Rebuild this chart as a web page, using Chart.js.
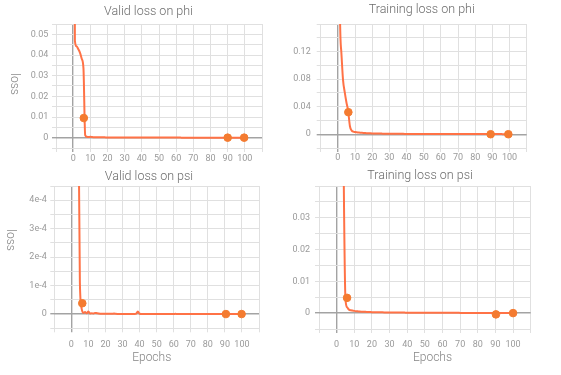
<!DOCTYPE html>
<html>
<head>
<meta charset="utf-8">
<script src="https://cdn.jsdelivr.net/npm/chart.js@4.4.1/dist/chart.umd.min.js"></script>
<style>
  html, body { margin: 0; padding: 0; background: #ffffff; }
  body { width: 561px; height: 375px; position: relative; overflow: hidden; }
  canvas { position: absolute; }
</style>
</head>
<body>
<canvas id="validPhi" width="300" height="168" style="left:0px;top:0px;width:300px;height:168px"></canvas>
<canvas id="trainPhi" width="290" height="168" style="left:280px;top:0px;width:290px;height:168px"></canvas>
<canvas id="validPsi" width="300" height="211" style="left:0px;top:164px;width:300px;height:211px"></canvas>
<canvas id="trainPsi" width="281" height="211" style="left:280px;top:164px;width:281px;height:211px"></canvas>
<script>
// ---- data -------------------------------------------------------------
const epochs = [
  0, 1, 2, 3, 4, 5, 6, 7, 8, 9,
  10, 11, 12, 13, 14, 15, 16, 17, 18, 19,
  20, 21, 22, 23, 24, 25, 26, 27, 28, 29,
  30, 31, 32, 33, 34, 35, 36, 37, 38, 39,
  40, 41, 42, 43, 44, 45, 46, 47, 48, 49,
  50, 51, 52, 53, 54, 55, 56, 57, 58, 59,
  60, 61, 62, 63, 64, 65, 66, 67, 68, 69,
  70, 71, 72, 73, 74, 75, 76, 77, 78, 79,
  80, 81, 82, 83, 84, 85, 86, 87, 88, 89,
  90, 91, 92, 93, 94, 95, 96, 97, 98, 99,
  100
];

const validLossPhi = [
  0.35, 0.047, 0.0442, 0.0428, 0.041, 0.0382, 0.0335, 0.0012, 0.0004, 0.0003,
  0.0005, 0.0003, 0.00025, 0.00022, 0.0002, 0.00018, 0.00017, 0.00016, 0.00015, 0.00014,
  0.00013, 0.00012, 0.00012, 0.00011, 0.0001, 0.0001, 0.00009, 0.00009, 0.00008, 0.00008,
  0.00008, 0.00007, 0.00007, 0.00007, 0.00006, 0.00006, 0.00006, 0.00006, 0.00005, 0.00005,
  0.00005, 0.00005, 0.00005, 0.00004, 0.00004, 0.00004, 0.00004, 0.00004, 0.00004, 0.00003,
  0.00003, 0.00003, 0.00003, 0.00003, 0.00003, 0.00003, 0.00003, 0.00003, 0.00003, 0.00003,
  0.00003, 0.00003, 0.00003, 0.00002, 0.00002, 0.00002, 0.00002, 0.00002, 0.00002, 0.00002,
  0.00002, 0.00002, 0.00002, 0.00002, 0.00002, 0.00002, 0.00002, 0.00002, 0.00002, 0.00002,
  0.00002, 0.00002, 0.00002, 0.00002, 0.00002, 0.00002, 0.00002, 0.00002, 0.00002, 0.00002,
  0.00002, 0.00002, 0.00002, 0.00002, 0.00002, 0.00002, 0.00002, 0.00002, 0.00002, 0.00002,
  0.00002
];

const trainLossPhi = [
  1.2, 0.22, 0.12, 0.079, 0.061, 0.046, 0.034, 0.012, 0.0055, 0.0038,
  0.0032, 0.0028, 0.0025, 0.0022, 0.002, 0.0018, 0.0016, 0.0015, 0.0014, 0.0013,
  0.0012, 0.0011, 0.00105, 0.001, 0.00095, 0.0009, 0.00085, 0.0008, 0.00077, 0.00074,
  0.0007, 0.00068, 0.00065, 0.00063, 0.0006, 0.00058, 0.00056, 0.00054, 0.00052, 0.0005,
  0.00049, 0.00048, 0.00046, 0.00045, 0.00044, 0.00043, 0.00042, 0.00041, 0.0004, 0.00039,
  0.00038, 0.00037, 0.00036, 0.00035, 0.00035, 0.00034, 0.00033, 0.00032, 0.00032, 0.00031,
  0.0003, 0.0003, 0.00029, 0.00028, 0.00028, 0.00027, 0.00027, 0.00026, 0.00026, 0.00025,
  0.00025, 0.00024, 0.00024, 0.00023, 0.00023, 0.00022, 0.00022, 0.00021, 0.00021, 0.0002,
  0.0002, 0.0002, 0.00019, 0.00019, 0.00018, 0.00018, 0.00018, 0.00017, 0.00017, 0.00017,
  0.00016, 0.00016, 0.00016, 0.00015, 0.00015, 0.00015, 0.00014, 0.00014, 0.00014, 0.00013,
  0.00013
];

const validLossPsi = [
  2e-2, 8e-3, 4e-3, 2e-3, 8e-4, 1.1e-4, 2e-5, 4e-6, 7e-6, 3e-6,
  9e-6, 2e-6, 3e-6, 2e-6, 4e-6, 3e-6, 2e-6, 1.5e-6, 1.2e-6, 1e-6,
  1e-6, 8e-7, 9e-7, 7e-7, 8e-7, 2e-6, 7e-7, 6e-7, 6e-7, 5e-7,
  5e-7, 5e-7, 4e-7, 4e-7, 4e-7, 4e-7, 3e-7, 4e-7, 1.5e-6, 9e-6,
  1e-6, 3e-7, 3e-7, 3e-7, 3e-7, 3e-7, 2e-7, 2e-7, 2e-7, 2e-7,
  2e-7, 2e-7, 2e-7, 2e-7, 2e-7, 2e-7, 2e-7, 2e-7, 2e-7, 2e-7,
  2e-7, 1e-6, 3e-7, 1e-7, 1e-7, 1e-7, 1e-7, 1e-7, 1e-7, 1e-7,
  1e-7, 1e-7, 1e-7, 1e-7, 1e-7, 1e-7, 1e-7, 1e-7, 1e-7, 1e-7,
  1e-7, 1e-7, 1e-7, 1e-7, 1e-7, 1e-7, 1e-7, 1e-7, 1e-7, 1e-7,
  1e-7, 1e-7, 1e-7, 1e-7, 1e-7, 1e-7, 1e-7, 1e-7, 1e-7, 1e-7,
  1e-7
];

const trainLossPsi = [
  1.0, 0.5, 0.25, 0.12, 0.044, 0.0045, 0.0018, 0.0011, 0.0009, 0.0008,
  0.0007, 0.00062, 0.00056, 0.0005, 0.00046, 0.00043, 0.0004, 0.00037, 0.00035, 0.00033,
  0.00031, 0.0003, 0.00028, 0.00027, 0.00026, 0.00025, 0.00024, 0.00023, 0.00022, 0.00021,
  0.0002, 0.0002, 0.00019, 0.00018, 0.00018, 0.00017, 0.00017, 0.00016, 0.00016, 0.00015,
  0.00015, 0.00014, 0.00014, 0.00014, 0.00013, 0.00013, 0.00013, 0.00012, 0.00012, 0.00012,
  0.00011, 0.00011, 0.00011, 0.00011, 0.0001, 0.0001, 0.0001, 0.0001, 0.0001, 0.00009,
  0.00009, 0.00009, 0.00009, 0.00009, 0.00008, 0.00008, 0.00008, 0.00008, 0.00008, 0.00008,
  0.00007, 0.00007, 0.00007, 0.00007, 0.00007, 0.00007, 0.00007, 0.00006, 0.00006, 0.00006,
  0.00006, 0.00006, 0.00006, 0.00006, 0.00006, 0.00005, 0.00005, 0.00005, 0.00005, 0.00005,
  0.00005, 0.00005, 0.00005, 0.00005, 0.00004, 0.00004, 0.00004, 0.00004, 0.00004, 0.00004,
  0.00004
];

// highlighted checkpoints on each curve
const validPhiMarkEpochs = [6.2, 90, 99.6];
const validPhiMarkLoss   = [0.0095, 0, 0];
const trainPhiMarkEpochs = [6.1, 89, 99.3];
const trainPhiMarkLoss   = [0.032, 0, 0];
const validPsiMarkEpochs = [6.4, 90.6, 99.8];
const validPsiMarkLoss   = [0.000038, 0, 0];
const trainPsiMarkEpochs = [5.9, 90.3, 100];
const trainPsiMarkLoss   = [0.0048, -0.0004, 0];

// tick labels
const epochTickValues = [0, 10, 20, 30, 40, 50, 60, 70, 80, 90, 100];
const epochTickLabels = ['0', '10', '20', '30', '40', '50', '60', '70', '80', '90', '100'];
const validPhiTickValues = [0, 0.01, 0.02, 0.03, 0.04, 0.05];
const validPhiTickLabels = ['0', '0.01', '0.02', '0.03', '0.04', '0.05'];
const trainPhiTickValues = [0, 0.04, 0.08, 0.12];
const trainPhiTickLabels = ['0', '0.04', '0.08', '0.12'];
const validPsiTickValues = [0, 1e-4, 2e-4, 3e-4, 4e-4];
const validPsiTickLabels = ['0', '1e-4', '2e-4', '3e-4', '4e-4'];
const trainPsiTickValues = [0, 0.01, 0.02, 0.03];
const trainPsiTickLabels = ['0', '0.01', '0.02', '0.03'];

// ---- styling ----------------------------------------------------------
const FONT = 'Roboto, "Noto Sans", sans-serif';
const LINE_COLOR = '#ff7246';
const MARK_COLOR = '#f47b30';
const GRID_COLOR = '#e0e0e0';
const ZERO_COLOR = '#a3a3a3';

function zip(xs, ys) { return xs.map((x, i) => ({ x: x, y: ys[i] })); }

function labelFor(values, labels, step) {
  return function (v) {
    const i = values.findIndex(t => Math.abs(t - v) < step * 1e-3);
    return i < 0 ? '' : labels[i];
  };
}

function isZero(step) {
  return ctx => ctx.tick && Math.abs(ctx.tick.value) < step * 1e-3;
}
function gridColor(step) {
  const z = isZero(step);
  return ctx => z(ctx) ? ZERO_COLOR : GRID_COLOR;
}
function gridWidth(step) {
  const z = isZero(step);
  return ctx => z(ctx) ? 1.4 : 1;
}

// free-standing axis captions
const captionPlugin = {
  id: 'captions',
  afterDraw(chart, args, opts) {
    const ctx = chart.ctx;
    (opts.items || []).forEach(c => {
      ctx.save();
      ctx.font = '300 12px ' + FONT;
      ctx.fillStyle = '#858585';
      ctx.textAlign = 'center';
      ctx.textBaseline = 'middle';
      ctx.translate(c.x, c.y);
      if (c.rotate) ctx.rotate(c.rotate);
      ctx.fillText(c.text, 0, 0);
      ctx.restore();
    });
  }
};

function makeChart(id, cfg) {
  const canvas = document.getElementById(id);
  const W = canvas.width, H = canvas.height;
  const a = cfg.area;
  const titleSpan = 2 * cfg.titleX;          // title box runs from 0 to titleSpan
  return new Chart(canvas, {
    type: 'line',
    data: {
      datasets: [
        {
          type: 'scatter',
          data: zip(cfg.markX, cfg.markY),
          backgroundColor: MARK_COLOR,
          borderColor: MARK_COLOR,
          pointRadius: 3.8,
          order: 0
        },
        {
          data: zip(epochs, cfg.values),
          borderColor: LINE_COLOR,
          borderWidth: 2,
          pointRadius: 0,
          fill: false,
          cubicInterpolationMode: 'monotone',
          order: 1
        }
      ]
    },
    options: {
      responsive: false,
      animation: false,
      devicePixelRatio: 1,
      layout: { padding: { left: 0, right: W - titleSpan, top: 0, bottom: 0 } },
      plugins: {
        legend: { display: false },
        tooltip: { enabled: false },
        title: {
          display: true,
          text: cfg.title,
          color: '#6c6c6c',
          font: { family: FONT, size: 12.5, weight: 300, lineHeight: 1.2 },
          padding: { top: cfg.titleTop, bottom: a.top - 15 - cfg.titleTop }
        },
        captions: { items: cfg.captions }
      },
      scales: {
        x: {
          type: 'linear',
          min: -10, max: 110,
          afterFit: s => { s.height = H - a.bottom; },
          ticks: {
            stepSize: 10,
            autoSkip: false,
            maxRotation: 0,
            padding: cfg.xPad,
            color: '#9a9a9a',
            font: { family: FONT, size: 9 },
            callback: labelFor(epochTickValues, epochTickLabels, 10)
          },
          grid: { color: gridColor(10), tickColor: gridColor(10), lineWidth: gridWidth(10), tickLength: 4 },
          border: { display: false }
        },
        y: {
          min: cfg.yMin, max: cfg.yMax,
          afterFit: s => { s.width = a.left; },
          ticks: {
            stepSize: cfg.yStep,
            autoSkip: false,
            padding: cfg.yPad,
            color: '#9a9a9a',
            font: { family: FONT, size: 9 },
            callback: labelFor(cfg.tickValues, cfg.tickLabels, cfg.yStep)
          },
          grid: { color: gridColor(cfg.yStep), tickColor: gridColor(cfg.yStep), lineWidth: gridWidth(cfg.yStep), tickLength: 4 },
          border: { display: false }
        },
        // empty right-hand spacer so the title sits where it should
        spacer: {
          type: 'linear',
          position: 'right',
          display: true,
          afterFit: s => { s.width = titleSpan - a.right; },
          ticks: { display: false },
          grid: { display: false },
          border: { display: false }
        }
      }
    },
    plugins: [captionPlugin]
  });
}

makeChart('validPhi', {
  title: 'Valid loss on phi', titleTop: 4, titleX: 148.5,
  area: { left: 56, right: 262, top: 24, bottom: 148 },
  values: validLossPhi, markX: validPhiMarkEpochs, markY: validPhiMarkLoss,
  yMin: -0.005, yMax: 0.055, yStep: 0.005,
  tickValues: validPhiTickValues, tickLabels: validPhiTickLabels,
  xPad: 1, yPad: 3.7,
  captions: [{ text: 'loss', x: 13.5, y: 84, rotate: Math.PI / 2 }]
});

makeChart('trainPhi', {
  title: 'Training loss on phi', titleTop: 2, titleX: 141.7,
  area: { left: 40.7, right: 246.7, top: 24, bottom: 148 },
  values: trainLossPhi, markX: trainPhiMarkEpochs, markY: trainPhiMarkLoss,
  yMin: -0.02, yMax: 0.16, yStep: 0.02,
  tickValues: trainPhiTickValues, tickLabels: trainPhiTickLabels,
  xPad: 0.5, yPad: 6,
  captions: []
});

makeChart('validPsi', {
  title: 'Valid loss on psi', titleTop: 5, titleX: 149,
  area: { left: 54.3, right: 259, top: 22, bottom: 164.3 },
  values: validLossPsi, markX: validPsiMarkEpochs, markY: validPsiMarkLoss,
  yMin: -0.00005, yMax: 0.00045, yStep: 0.00005,
  tickValues: validPsiTickValues, tickLabels: validPsiTickLabels,
  xPad: 7, yPad: 3.6,
  captions: [
    { text: 'loss', x: 10, y: 76, rotate: Math.PI / 2 },
    { text: 'Epochs', x: 151.7, y: 194 }
  ]
});

makeChart('trainPsi', {
  title: 'Training loss on psi', titleTop: 4.5, titleX: 140,
  area: { left: 39, right: 250.7, top: 22, bottom: 165 },
  values: trainLossPsi, markX: trainPsiMarkEpochs, markY: trainPsiMarkLoss,
  yMin: -0.005, yMax: 0.04, yStep: 0.005,
  tickValues: trainPsiTickValues, tickLabels: trainPsiTickLabels,
  xPad: 6, yPad: 5,
  captions: [{ text: 'Epochs', x: 152.5, y: 194 }]
});
</script>
</body>
</html>
